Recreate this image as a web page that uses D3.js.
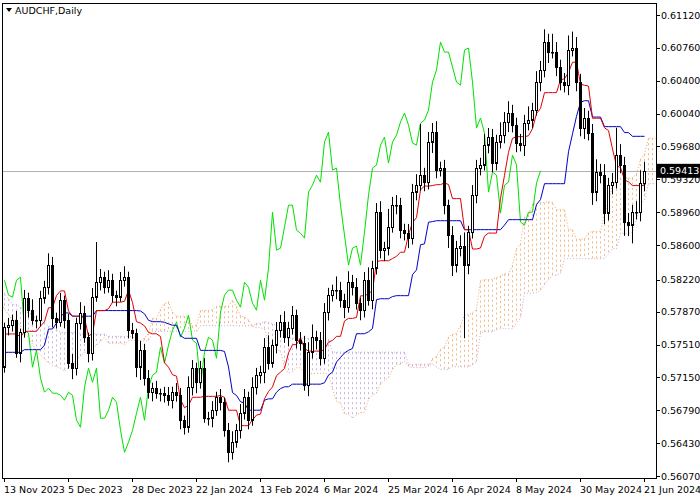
<!DOCTYPE html>
<html lang="en">
<head>
<meta charset="utf-8">
<script src="https://cdn.jsdelivr.net/npm/d3@7"></script>
<style>
  body { margin: 0; background: #fff; }
  text { font-family: "DejaVu Sans", sans-serif; font-size: 9.5px; }
</style>
</head>
<body>
<svg id="chart" width="700" height="500"></svg>
<script>
// bars before 13 Nov 2023 (only used to seed the Ichimoku lines)
const preCloses = [0.5790,0.5805,0.5820,0.5835,0.5828,0.5840,0.5852,0.5845,0.5830,0.5818,0.5825,0.5838,0.5850,0.5862,0.5855,0.5842,0.5830,0.5822,0.5835,0.5848,0.5840,0.5826,0.5815,0.5808,0.5820,0.5832,
  0.5845,0.5838,0.5825,0.5812,0.5800,0.5815,0.5828,0.5840,0.5832,0.5818,0.5805,0.5795,0.5808,0.5820,0.5830,0.5822,0.5810,0.5798,0.5785,0.5795,0.5808,0.5815,0.5802,0.5790,0.5778,0.5765,
  0.5752,0.5740,0.5728,0.5735,0.5722,0.5710,0.5718,0.5705,0.5695,0.5702,0.5688,0.5680,0.5692,0.5685,0.5698,0.5712,0.5728,0.5745,0.5762,0.5778,0.5790,0.5805,0.5798,0.5785,0.5792,0.5780];

// daily closes, 13 Nov 2023 .. 21 Jun 2024
const closes = [0.57700,0.57722,0.57777,0.57415,0.57645,0.58018,0.57886,0.57777,0.57777,0.58018,
  0.58138,0.58380,0.57799,0.57755,0.57996,0.57777,0.57306,0.57251,0.57744,0.57854,
  0.57590,0.57415,0.58029,0.58193,0.58248,0.58138,0.58215,0.58051,0.58029,0.58215,
  0.58248,0.57667,0.57634,0.57262,0.57448,0.57141,0.56988,0.57032,0.56977,0.56977,
  0.56955,0.56900,0.56988,0.56955,0.56681,0.56604,0.57042,0.57251,0.57097,0.57251,
  0.56703,0.56703,0.56790,0.56933,0.56878,0.56571,0.56330,0.56440,0.56571,0.56758,
  0.56933,0.56681,0.57042,0.57174,0.57207,0.57481,0.57306,0.57503,0.57667,0.57755,
  0.57590,0.57689,0.57832,0.57558,0.57525,0.57064,0.57426,0.57590,0.57558,0.57360,
  0.57864,0.58051,0.58106,0.58106,0.57996,0.57919,0.58193,0.58138,0.57963,0.57886,
  0.58215,0.57996,0.58347,0.58960,0.58544,0.58566,0.58796,0.59037,0.59037,0.58763,
  0.58730,0.58676,0.59180,0.59256,0.59366,0.59289,0.59728,0.59837,0.59421,0.59443,
  0.59037,0.58708,0.58380,0.58566,0.58588,0.58380,0.58741,0.59147,0.59443,0.59476,
  0.59695,0.59782,0.59498,0.59728,0.59804,0.59947,0.60046,0.59914,0.59717,0.59695,
  0.59936,0.59969,0.60078,0.60385,0.60517,0.60824,0.60714,0.60714,0.60550,0.60385,
  0.60352,0.60736,0.60758,0.60385,0.59881,0.59991,0.59826,0.59180,0.59399,0.59366,
  0.58950,0.59256,0.59289,0.59585,0.59476,0.58851,0.58818,0.58960,0.58960,0.59278,
  0.59413];
const firstOpen = 0.57262;

// wick lengths in pips above / below the body
const wickUp = [5,8,6,10,4,9,6,12,5,8,7,13,9,6,8,5,7,10,6,12,
  8,5,10,44,9,6,11,7,5,9,12,6,8,5,10,7,9,6,8,5,
  7,9,6,10,8,5,12,9,6,8,11,7,10,6,9,5,8,12,7,10,
  9,6,11,8,7,10,13,6,9,8,12,7,10,6,9,8,11,14,7,9,
  10,8,6,15,9,7,12,8,10,6,9,14,8,10,12,7,20,9,11,8,
  7,10,9,12,56,8,11,10,12,7,9,6,10,8,12,15,7,11,9,8,
  12,10,9,8,14,11,13,9,8,10,9,15,8,12,10,14,9,20,11,8,
  10,16,18,12,9,11,8,10,14,9,12,8,10,30,12,9,10,8,12,14,10];
const wickDn = [6,9,7,5,10,6,8,5,9,7,6,8,10,7,5,9,6,12,8,7,
  6,10,8,5,9,7,6,8,10,5,7,9,6,11,14,8,7,10,6,9,
  8,6,9,7,10,8,6,9,12,7,5,8,10,6,9,7,11,8,6,9,
  7,10,6,8,9,12,7,5,9,8,6,10,7,9,8,6,12,7,10,8,
  6,9,7,10,8,12,6,9,7,11,8,6,10,7,9,12,8,6,10,9,
  8,11,7,9,6,10,8,12,9,7,10,14,12,8,9,80,10,7,9,8,
  6,9,10,8,7,9,11,8,10,7,12,8,9,6,10,8,12,7,10,9,
  8,11,7,10,9,12,8,14,10,9,12,8,10,7,9,15,12,20,8,10,9];

const priceTicks = [0.61120,0.60760,0.60400,0.60040,0.59680,0.59320,0.58960,0.58600,0.58220,0.57870,0.57510,0.57150,0.56790,0.56430,0.56070];
const dateLabels = ["13 Nov 2023","5 Dec 2023","28 Dec 2023","22 Jan 2024","13 Feb 2024","6 Mar 2024","25 Mar 2024","16 Apr 2024","8 May 2024","30 May 2024","21 Jun 2024"];
const dateIdx = [0,16,32,48,64,80,96,112,128,144,160];
const lastPrice = 0.59413;

const svg = d3.select('#chart');
const L = 2, T = 3, R = 656, B = 478;
const x = d3.scaleLinear().domain([0, 1]).range([4, 8]);
const y = d3.scaleLinear().domain([0.56070, 0.61120]).range([476, 15]);

// build bars
const bars = closes.map((c, i) => {
  const o = i === 0 ? firstOpen : closes[i - 1];
  return { i, o, c, h: Math.max(o, c) + wickUp[i] / 10000, l: Math.min(o, c) - wickDn[i] / 10000 };
});
const pre = preCloses.map((c, k) => ({ i: k - preCloses.length, o: c, c, h: c, l: c }));
const all = pre.concat(bars);
const off = pre.length;
function mid(end, n) {
  const s = all.slice(Math.max(0, end - n + 1), end + 1);
  return (d3.max(s, d => d.h) + d3.min(s, d => d.l)) / 2;
}
const tenkan = bars.map(b => ({ i: b.i, v: mid(b.i + off, 9) }));
const kijun = bars.map(b => ({ i: b.i, v: mid(b.i + off, 26) }));
const span = [];
for (let k = 26; k < all.length; k++) {
  const idx = all[k].i;
  const a = (mid(k, 9) + mid(k, 26)) / 2, b = mid(k, 52);
  span.push({ i: idx + 26, a, b });
}
const chikou = bars.filter(b => b.i >= 26).map(b => ({ i: b.i - 26, v: b.c }));

svg.append('clipPath').attr('id', 'clip').append('rect')
  .attr('x', L).attr('y', T).attr('width', R - L).attr('height', B - T);
const g = svg.append('g').attr('clip-path', 'url(#clip)');

// cloud hatching
const spanVis = span.filter(s => s.i >= -1 && s.i <= 165);
spanVis.forEach(s => {
  const top = Math.max(s.a, s.b), bot = Math.min(s.a, s.b);
  g.append('line').attr('x1', x(s.i) + 0.5).attr('x2', x(s.i) + 0.5)
    .attr('y1', y(top)).attr('y2', y(bot))
    .attr('stroke', s.a >= s.b ? '#f0a060' : '#b898d8')
    .attr('stroke-opacity', 0.75)
    .attr('stroke-width', 1).attr('stroke-dasharray', '2,3');
});
const ln = key => d3.line().x(d => x(d.i) + 0.5).y(d => y(d[key]));
g.append('path').datum(spanVis).attr('d', ln('a')).attr('fill', 'none').attr('stroke', '#f4a460').attr('stroke-dasharray', '1,2');
g.append('path').datum(spanVis).attr('d', ln('b')).attr('fill', 'none').attr('stroke', '#c8a8d8').attr('stroke-dasharray', '1,2');

// last price line
g.append('line').attr('x1', L).attr('x2', R).attr('y1', Math.round(y(lastPrice)) + 0.5).attr('y2', Math.round(y(lastPrice)) + 0.5)
  .attr('stroke', '#b0b0b0');

g.append('path').datum(chikou).attr('d', ln('v')).attr('fill', 'none').attr('stroke', '#00e000');
g.append('path').datum(kijun).attr('d', ln('v')).attr('fill', 'none').attr('stroke', '#0000c8');
g.append('path').datum(tenkan).attr('d', ln('v')).attr('fill', 'none').attr('stroke', '#e00000');

// candles
const cg = g.selectAll('.candle').data(bars).enter().append('g');
cg.append('line').attr('x1', d => x(d.i) + 0.5).attr('x2', d => x(d.i) + 0.5)
  .attr('y1', d => y(d.h)).attr('y2', d => y(d.l)).attr('stroke', '#000');
cg.append('rect').attr('x', d => x(d.i) - 0.5).attr('width', 2)
  .attr('y', d => Math.round(y(Math.max(d.o, d.c))) + 0.5)
  .attr('height', d => Math.max(0.5, Math.abs(y(d.o) - y(d.c))))
  .attr('fill', d => d.c >= d.o ? '#fff' : '#000').attr('stroke', '#000');

// frame
svg.append('rect').attr('x', L + 0.5).attr('y', T + 0.5).attr('width', R - L).attr('height', B - T)
  .attr('fill', 'none').attr('stroke', '#000');

// price axis
priceTicks.forEach(p => {
  svg.append('line').attr('x1', R).attr('x2', R + 4).attr('y1', Math.round(y(p)) + 0.5).attr('y2', Math.round(y(p)) + 0.5).attr('stroke', '#000');
  svg.append('text').attr('x', R + 5).attr('y', y(p) + 3.5).text(p.toFixed(5));
});
svg.append('rect').attr('x', R + 1).attr('y', y(lastPrice) - 7).attr('width', 43).attr('height', 14).attr('fill', '#000');
svg.append('text').attr('x', R + 4).attr('y', y(lastPrice) + 3.5).attr('fill', '#fff').text(lastPrice.toFixed(5));

// date axis
dateIdx.forEach((d, k) => {
  svg.append('line').attr('x1', x(d) + 0.5).attr('x2', x(d) + 0.5).attr('y1', B).attr('y2', B + 4).attr('stroke', '#000');
  svg.append('text').attr('x', x(d)).attr('y', B + 15).text(dateLabels[k]);
});

// title
svg.append('path').attr('d', 'M6,8 L12,8 L9,12 Z').attr('fill', '#000');
svg.append('text').attr('x', 15).attr('y', 14).text('AUDCHF,Daily');
</script>
</body>
</html>
